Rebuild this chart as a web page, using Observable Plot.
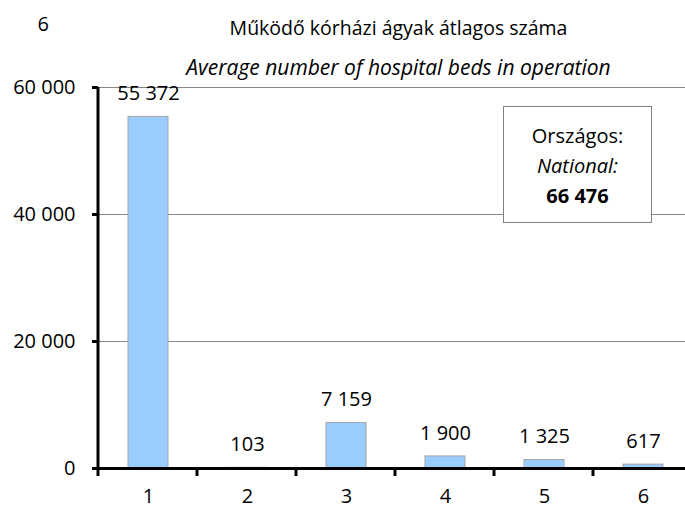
<!DOCTYPE html>
<html><head><meta charset="utf-8">
<script src="https://cdn.jsdelivr.net/npm/d3@7"></script>
<script src="https://cdn.jsdelivr.net/npm/@observablehq/plot@0.6"></script>
<style>
body{margin:0;background:#fff;font-family:"Open Sans",sans-serif;}
#wrap{position:relative;width:685px;height:508px;overflow:hidden;}
#box{position:absolute;left:503px;top:106px;width:147px;border:1px solid #7f7f7f;background:#fff;text-align:center;font-size:20px;line-height:30px;color:#000;padding-top:14px;box-sizing:content-box;}
#box div{height:30px;}
</style></head><body><div id="wrap"></div>
<script>
const categories = ["1","2","3","4","5","6"];
const values = [55372, 103, 7159, 1900, 1325, 617];
const yTicks = [0, 20000, 40000, 60000];
const pageNumber = "6";
const titleHu = "Működő kórházi ágyak átlagos száma";
const titleEn = "Average number of hospital beds in operation";
const nationalLabelHu = "Országos:";
const nationalLabelEn = "National:";
const nationalValue = 66476;

const fmt = v => d3.format(",")(v).replace(/,/g, " ");
const data = categories.map((c, i) => ({category: c, value: values[i]}));

const W = 685, H = 508, mL = 98, mR = -7, mT = 87, mB = 40;
const font = '"Open Sans", sans-serif';

const plot = Plot.plot({
  width: W, height: H,
  marginLeft: mL, marginRight: mR, marginTop: mT, marginBottom: mB,
  style: {fontFamily: font, fontSize: "20px", color: "#000", background: "#fff", overflow: "visible"},
  x: {domain: categories, paddingInner: 0.6, paddingOuter: 0.3, axis: null},
  y: {domain: [0, 60000], axis: null},
  marks: [
    Plot.gridY({ticks: yTicks.slice(1), stroke: "#868686", strokeOpacity: 1, strokeWidth: 1}),
    Plot.barY(data, {x: "category", y: "value", fill: "#99CCFF", stroke: "#A5A5A5", strokeWidth: 1}),
    Plot.text(data, {x: "category", y: "value", text: d => fmt(d.value), dy: -23, fontSize: 20, fill: "#000"}),
    Plot.axisY({ticks: yTicks, tickFormat: fmt, tickSize: 6, tickPadding: 17, stroke: "#000", strokeWidth: 3, fontSize: 20, label: null}),
    Plot.axisX({tickSize: 0, tickPadding: 20, fontSize: 20, label: null}),
    Plot.ruleY([0], {stroke: "#000", strokeWidth: 3}),
    Plot.text([titleHu], {frameAnchor: "top", dx: 3, dy: -66, fontSize: 19.5, fill: "#000"}),
    Plot.text([titleEn], {frameAnchor: "top", dx: 3, dy: -27, fontSize: 21, fontStyle: "italic", fill: "#000"}),
    Plot.text([pageNumber], {frameAnchor: "top-left", dx: -61, dy: -71, fontSize: 20, fill: "#000"})
  ]
});

// y-axis line and category boundary ticks
const svg = d3.select(plot);
const step = (W - mL - mR) / categories.length;
svg.append("line").attr("x1", mL).attr("x2", mL).attr("y1", mT).attr("y2", H - mB + 8)
  .attr("stroke", "#000").attr("stroke-width", 3);
for (let k = 1; k <= categories.length; k++) {
  svg.append("line").attr("x1", mL + k * step).attr("x2", mL + k * step)
    .attr("y1", H - mB).attr("y2", H - mB + 8).attr("stroke", "#000").attr("stroke-width", 3);
}

const wrap = document.getElementById("wrap");
wrap.appendChild(plot);
const box = document.createElement("div");
box.id = "box";
box.innerHTML = `<div>${nationalLabelHu}</div><div style="font-style:italic">${nationalLabelEn}</div><div style="font-weight:bold">${fmt(nationalValue)}</div>`;
box.style.height = "101px";
wrap.appendChild(box);
</script></body></html>
